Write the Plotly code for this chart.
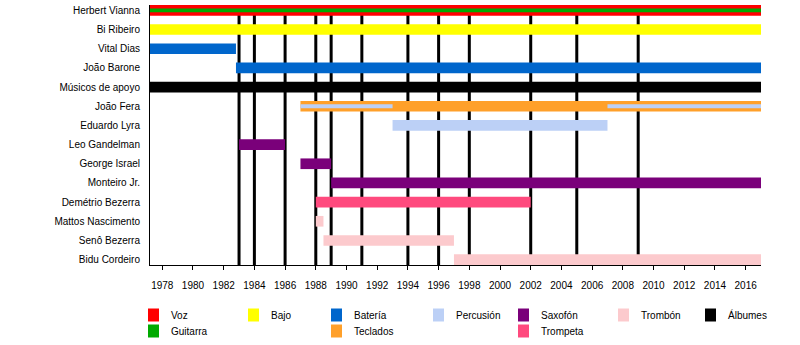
import plotly.graph_objects as go

# Band members, top to bottom
members = [
    "Herbert Vianna", "Bi Ribeiro", "Vital Dias", "João Barone",
    "Músicos de apoyo", "João Fera", "Eduardo Lyra", "Leo Gandelman",
    "George Israel", "Monteiro Jr.", "Demétrio Bezerra", "Mattos Nascimento",
    "Senô Bezerra", "Bidu Cordeiro",
]

# Timeline span
start_year = 1977.2
end_year = 2017.0

# Main role bars
bar_member = [
    "Herbert Vianna", "Bi Ribeiro", "Vital Dias", "João Barone",
    "Músicos de apoyo", "João Fera", "Eduardo Lyra", "Leo Gandelman",
    "George Israel", "Monteiro Jr.", "Demétrio Bezerra", "Mattos Nascimento",
    "Senô Bezerra", "Bidu Cordeiro",
]
bar_role = [
    "Voz", "Bajo", "Batería", "Batería", "Apoyo", "Teclados", "Percusión",
    "Saxofón", "Saxofón", "Saxofón", "Trompeta", "Trombón", "Trombón", "Trombón",
]
bar_start = [start_year, start_year, start_year, 1982.8, start_year, 1987.0, 1993.0,
             1983.0, 1987.0, 1989.0, 1988.0, 1988.0, 1988.5, 1997.0]
bar_end = [end_year, end_year, 1982.8, end_year, end_year, end_year, 2007.0,
           1986.0, 1989.0, end_year, 2002.0, 1988.5, 1997.0, end_year]

# Secondary roles drawn as thin inner stripes
stripe_member = ["Herbert Vianna", "João Fera", "João Fera"]
stripe_role = ["Guitarra", "Percusión", "Percusión"]
stripe_start = [start_year, 1987.0, 2007.0]
stripe_end = [end_year, 1993.0, end_year]

# Studio album release years
album_years = [1983, 1984, 1986, 1988, 1989, 1991, 1994, 1996, 1998, 2002, 2005, 2009]

role_colors = {
    "Voz": "#ff0000",
    "Guitarra": "#00aa00",
    "Bajo": "#ffff00",
    "Batería": "#0066cc",
    "Teclados": "#ffa02a",
    "Percusión": "#bcd0f6",
    "Saxofón": "#7a007a",
    "Trompeta": "#ff4a7e",
    "Trombón": "#fccacd",
    "Álbumes": "#000000",
    "Apoyo": "#000000",
}

# Legend entries: label, column, row
legend_labels = ["Voz", "Guitarra", "Bajo", "Batería", "Teclados", "Percusión",
                 "Saxofón", "Trompeta", "Trombón", "Álbumes"]
legend_col = [0, 0, 1, 2, 2, 3, 4, 4, 5, 6]
legend_row = [0, 1, 0, 0, 1, 0, 0, 1, 0, 0]

fig = go.Figure()


def add_bars(members_, roles_, starts_, ends_, width):
    for role in dict.fromkeys(roles_):
        idx = [i for i, r in enumerate(roles_) if r == role]
        fig.add_trace(go.Bar(
            orientation="h",
            y=[members_[i] for i in idx],
            base=[starts_[i] for i in idx],
            x=[ends_[i] - starts_[i] for i in idx],
            width=width,
            marker=dict(color=role_colors[role], line=dict(width=0)),
            name=role,
            showlegend=False,
        ))


add_bars(bar_member, bar_role, bar_start, bar_end, 0.556)
add_bars(stripe_member, stripe_role, stripe_start, stripe_end, 0.2)

# Album release markers behind the bars
for yr in album_years:
    fig.add_shape(type="line", xref="x", yref="paper", x0=yr, x1=yr, y0=0, y1=1,
                  line=dict(color="black", width=3), layer="below")

# Plot area in pixels (for the custom legend layout)
plot_left, plot_right, plot_top, plot_bottom = 150, 761, 5, 265
col_px = [148, 248, 331, 433, 518, 618, 705]
row_px = [315, 331]
sw_w, sw_h = 11, 13


def px_x(p):
    return (p - plot_left) / (plot_right - plot_left)


def px_y(p):
    return (plot_bottom - p) / (plot_bottom - plot_top)


for lab, c, r in zip(legend_labels, legend_col, legend_row):
    x0 = col_px[c]
    yc = row_px[r]
    fig.add_shape(type="rect", xref="paper", yref="paper",
                  x0=px_x(x0), x1=px_x(x0 + sw_w),
                  y0=px_y(yc + sw_h / 2), y1=px_y(yc - sw_h / 2),
                  fillcolor=role_colors[lab], line=dict(width=0))
    fig.add_annotation(xref="paper", yref="paper", x=px_x(x0 + 21), y=px_y(yc),
                       text=lab, showarrow=False, xanchor="left", yanchor="middle",
                       font=dict(size=10, color="black"))

fig.update_layout(
    width=800, height=345,
    margin=dict(l=plot_left, r=800 - plot_right, t=plot_top, b=345 - plot_bottom),
    plot_bgcolor="white", paper_bgcolor="white",
    barmode="overlay", showlegend=False,
    font=dict(family="Liberation Sans, Arial, sans-serif", size=10, color="black"),
    xaxis=dict(
        range=[start_year, end_year], tickmode="linear", tick0=1978, dtick=2,
        ticks="outside", ticklen=4, tickcolor="black", showline=True,
        linecolor="black", linewidth=1, showgrid=False, zeroline=False,
        tickfont=dict(size=10), ticklabelstandoff=7,
    ),
    yaxis=dict(
        type="category", categoryorder="array", categoryarray=members,
        range=[13.28, -0.28], showline=True, linecolor="black", linewidth=1,
        showgrid=False, zeroline=False, ticks="", ticklabelstandoff=7,
        tickfont=dict(size=10),
    ),
)

fig.write_html("out.html")
